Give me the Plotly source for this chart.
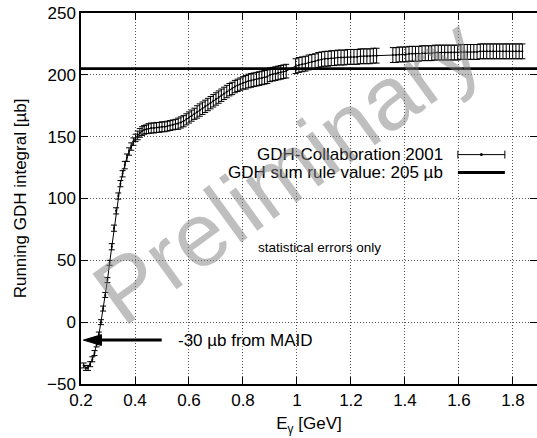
import plotly.graph_objects as go

# running GDH integral (GeV, microbarn)
e_delta = [0.210, 0.218, 0.226, 0.234, 0.242, 0.250, 0.258, 0.266, 0.274, 0.282,
           0.290, 0.298, 0.306, 0.314, 0.322, 0.330, 0.338, 0.346, 0.354, 0.362,
           0.370, 0.378, 0.386, 0.394, 0.402, 0.410, 0.418, 0.426, 0.434, 0.442]
gdh_delta = [-35, -37, -37, -34, -30, -25, -18, -10, 0, 11,
             22, 34, 48, 61, 76, 90, 102, 112, 120, 127,
             133, 138, 142, 146, 149, 151, 153, 154.5, 155.5, 156]
err_delta = [2, 2, 2, 2, 2, 2, 2, 2, 2, 2,
             2, 2, 2, 2.5, 2.5, 2.5, 2.5, 2.5, 2.5, 3,
             3, 3, 3, 3, 3, 3.5, 3.5, 3.5, 3.5, 3.5]

e_mami = [0.45, 0.46, 0.47, 0.48, 0.49, 0.50, 0.51, 0.52, 0.53, 0.54,
          0.55, 0.56, 0.57, 0.58, 0.59, 0.60, 0.61, 0.62, 0.63, 0.64,
          0.65, 0.66, 0.67, 0.68, 0.69, 0.70, 0.71, 0.72, 0.73, 0.74,
          0.75, 0.76, 0.77, 0.78, 0.79, 0.80]
gdh_mami = [156.5, 157, 157, 157.5, 157.5, 158, 158, 158.5, 159, 159.5,
            160, 160.5, 161.5, 162.5, 164, 165.5, 167, 168.5, 170, 171.5,
            173, 174.5, 176, 177.5, 179, 180.5, 182, 183.5, 185, 186.5,
            188, 189, 190.5, 191.5, 192.5, 193.5]
err_mami = [4, 4, 4, 4, 4, 4, 4, 4, 4, 4,
            4, 4.5, 4.5, 4.5, 4.5, 4.5, 4.5, 4.5, 5, 5,
            5, 5, 5, 5, 5, 5, 5, 5, 5, 5,
            5, 5, 5, 5, 5, 5]

e_elsa1 = [0.81, 0.82, 0.83, 0.84, 0.85, 0.86, 0.87, 0.88, 0.89, 0.90,
           0.91, 0.92, 0.93, 0.94, 0.95, 0.96]
gdh_elsa1 = [194, 195, 195.5, 196, 196.5, 197, 197.5, 198, 198.5, 200,
             200.5, 201, 201.5, 202, 202.5, 203]
err_elsa1 = [5.5] * 16

e_elsa2 = [0.995, 1.007, 1.019, 1.031, 1.043, 1.055, 1.067, 1.079, 1.091, 1.103,
           1.115, 1.127, 1.139, 1.151, 1.163, 1.175, 1.187, 1.199, 1.211, 1.223,
           1.235, 1.247, 1.259, 1.271, 1.283, 1.295]
gdh_elsa2 = [207, 208, 208.5, 209, 210, 210.5, 211, 212, 212.5, 213,
             213, 213.5, 213.5, 214, 214, 214, 214.5, 214.5, 214.5, 214.5,
             215, 215, 215, 215, 215.5, 215.5]
err_elsa2 = [6] * 26

e_elsa3 = [1.355, 1.367, 1.379, 1.391, 1.403, 1.415, 1.427, 1.439, 1.451, 1.463,
           1.475, 1.487, 1.499, 1.511, 1.523, 1.535, 1.547, 1.559, 1.571, 1.583,
           1.595, 1.607, 1.619, 1.631, 1.643, 1.655, 1.667, 1.679, 1.691, 1.703,
           1.715, 1.727, 1.739, 1.751, 1.763, 1.775, 1.787, 1.799, 1.811, 1.823,
           1.835]
gdh_elsa3 = [216, 216, 216.5, 216.5, 216.5, 217, 217, 217, 217, 217.5,
             217.5, 217.5, 217.5, 218, 218, 218, 218, 218, 218, 218,
             218, 218.5, 218.5, 218.5, 218.5, 218.5, 218.5, 219, 219, 219,
             219, 219, 219, 219, 219, 219, 219, 219, 219, 219,
             219]
err_elsa3 = [6] * 41

sum_rule = 205
x_range = [0.2, 1.889]
y_range = [-50, 250]

energies = e_delta + e_mami + e_elsa1 + e_elsa2 + e_elsa3
gdh = gdh_delta + gdh_mami + gdh_elsa1 + gdh_elsa2 + gdh_elsa3
errors = err_delta + err_mami + err_elsa1 + err_elsa2 + err_elsa3

FONT = "Liberation Sans, Arial, sans-serif"

fig = go.Figure()

# sum rule value
fig.add_trace(go.Scatter(x=x_range, y=[sum_rule, sum_rule], mode="lines",
                         line=dict(color="black", width=2.6), showlegend=False))

# data
fig.add_trace(go.Scatter(
    x=energies, y=gdh, mode="lines+markers",
    line=dict(color="black", width=1),
    marker=dict(color="black", size=2),
    error_y=dict(type="data", array=errors, visible=True,
                 color="black", thickness=1, width=3),
    showlegend=False))

# hand made legend (text on the left, sample on the right)
fig.add_trace(go.Scatter(
    x=[1.683], y=[135.5], mode="markers",
    marker=dict(color="black", size=3),
    error_x=dict(type="constant", value=0.087, visible=True,
                 color="black", thickness=1, width=4),
    showlegend=False))
fig.add_trace(go.Scatter(x=[1.596, 1.770], y=[121, 121], mode="lines",
                         line=dict(color="black", width=3), showlegend=False))

fig.add_annotation(x=1.548, y=135.5, text="GDH-Collaboration 2001", showarrow=False,
                   xanchor="right", yanchor="middle", font=dict(size=17, color="black"))
fig.add_annotation(x=1.548, y=121, text="GDH sum rule value: 205 µb", showarrow=False,
                   xanchor="right", yanchor="middle", font=dict(size=17, color="black"))

fig.add_annotation(x=1.083, y=60, text="statistical errors only", showarrow=False,
                   xanchor="center", yanchor="middle", font=dict(size=13.5, color="black"))

# MAID arrow
fig.add_shape(type="line", x0=0.26, x1=0.499, y0=-14.5, y1=-14.5,
              line=dict(color="black", width=3))
fig.add_shape(type="path", path="M 0.209,-14.5 L 0.2757,-10.1 L 0.2757,-18.9 Z",
              fillcolor="black", line=dict(color="black", width=1))
fig.add_annotation(x=0.552, y=-14.5, text="-30 µb from MAID", showarrow=False,
                   xanchor="left", yanchor="middle", font=dict(size=17, color="black"))

# watermark
fig.add_annotation(x=0.962, y=122, text="Preliminary", showarrow=False,
                   textangle=-36, xanchor="center", yanchor="middle",
                   font=dict(size=90, color="rgba(128,128,128,0.5)"))

axis_style = dict(showline=True, linecolor="black", linewidth=1.5, mirror="ticks",
                  ticks="inside", ticklen=7, tickcolor="black",
                  showgrid=True, gridcolor="#555", griddash="1px,2px", gridwidth=1,
                  zeroline=False, automargin=False,
                  tickfont=dict(size=17, color="black"))

fig.update_xaxes(range=x_range, tickvals=[0.2, 0.4, 0.6, 0.8, 1, 1.2, 1.4, 1.6, 1.8],
                 ticktext=["0.2", "0.4", "0.6", "0.8", "1", "1.2", "1.4", "1.6", "1.8"],
                 title=dict(text="E<sub>γ</sub> [GeV]", font=dict(size=17), standoff=8),
                 **axis_style)
fig.update_yaxes(range=y_range, tickvals=[-50, 0, 50, 100, 150, 200, 250],
                 title=dict(text="Running GDH integral [µb]", font=dict(size=17), standoff=16),
                 **axis_style)

fig.update_layout(width=537, height=438,
                  margin=dict(l=81, r=0, t=13, b=54),
                  paper_bgcolor="white", plot_bgcolor="white",
                  font=dict(family=FONT, color="black"))

# drop the default 8px page margin so the figure fills the window
fig.write_html("out.html", config={"displayModeBar": False},
               post_script="document.body.style.margin='0';")
